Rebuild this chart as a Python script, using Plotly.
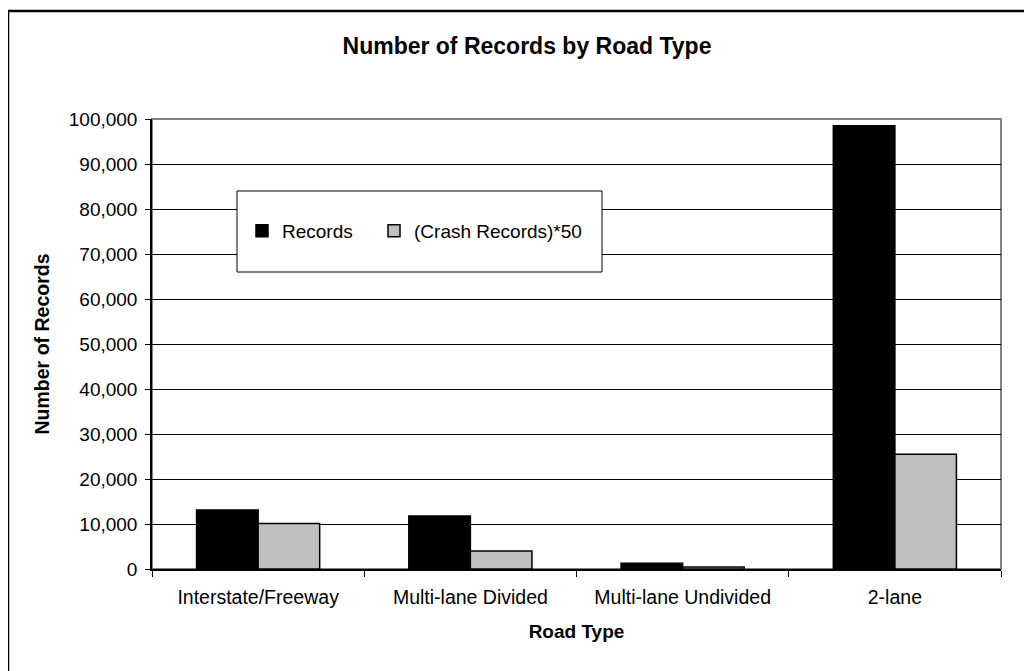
import plotly.graph_objects as go

categories = ["Interstate/Freeway", "Multi-lane Divided", "Multi-lane Undivided", "2-lane"]
records = [13100, 11800, 1250, 98500]
crash_x50 = [10100, 4000, 450, 25500]
series_names = ["Records", "(Crash Records)*50"]
y_ticks = list(range(0, 100001, 10000))

# the page body has an 8px margin; work in screen pixels and shift
OFF = 8
W, H = 1032 - OFF, 671 - OFF
L, R, T, B = 152 - OFF, 1032 - 1001, 119 - OFF, 671 - 569
pw, ph = W - L - R, H - T - B

def px_x(x):
    return (x - OFF - L) / pw

def px_y(y):
    return (H - B - (y - OFF)) / ph

FONT = "Liberation Sans, Arial, sans-serif"

fig = go.Figure()
fig.add_trace(go.Bar(x=categories, y=records, name=series_names[0], legend="legend",
                     marker=dict(color="#000000", line=dict(color="#000000", width=1.5))))
fig.add_trace(go.Bar(x=categories, y=crash_x50, name=series_names[1], legend="legend2",
                     marker=dict(color="#C0C0C0", line=dict(color="#000000", width=1.5))))

leg_common = dict(orientation="h", xanchor="left", yanchor="middle",
                  bgcolor="rgba(0,0,0,0)", borderwidth=0, font=dict(size=19), itemwidth=30)

fig.update_layout(
    width=W, height=H,
    margin=dict(l=L, r=R, t=T, b=B, autoexpand=False),
    paper_bgcolor="white", plot_bgcolor="white",
    font=dict(family=FONT, size=19, color="#000000"),
    barmode="group", bargap=0.42, bargroupgap=0,
    title=dict(text="<b>Number of Records by Road Type</b>", x=(527 - OFF) / W, xref="container",
               y=1 - (46 - OFF) / H, yref="container", xanchor="center", yanchor="middle",
               font=dict(size=23, family=FONT)),
    showlegend=True,
    legend=dict(x=px_x(242), y=px_y(231), **leg_common),
    legend2=dict(x=px_x(374), y=px_y(231), **leg_common),
    shapes=[
        dict(type="rect", xref="paper", yref="paper", x0=0, x1=1, y0=0, y1=1,
             line=dict(color="#808080", width=2), layer="below"),
        dict(type="rect", xref="paper", yref="paper", x0=px_x(237), x1=px_x(602),
             y0=px_y(272), y1=px_y(191), line=dict(color="#000000", width=1),
             fillcolor="white", layer="above"),
        dict(type="rect", xref="paper", yref="paper", x0=px_x(8), x1=px_x(1100),
             y0=px_y(720), y1=px_y(11), line=dict(color="#000000", width=2.5),
             layer="above"),
    ],
)

fig.update_xaxes(
    type="category", showline=True, linecolor="#000000", linewidth=1.5,
    ticks="outside", tickson="boundaries", ticklen=6, tickcolor="#000000",
    showgrid=False, ticklabelstandoff=10, tickfont=dict(size=19.5),
    title=dict(text="<b>Road Type</b>", font=dict(size=19), standoff=18),
)
fig.update_yaxes(
    range=[0, 100000], tickvals=y_ticks, tickformat=",",
    showline=True, linecolor="#000000", linewidth=1.5,
    ticks="outside", ticklen=5, tickcolor="#000000",
    showgrid=True, gridcolor="#000000", gridwidth=1, zeroline=False,
    ticklabelstandoff=4,
    title=dict(text="<b>Number of Records</b>", font=dict(size=19.5), standoff=14),
)

fig.write_html("out.html")
